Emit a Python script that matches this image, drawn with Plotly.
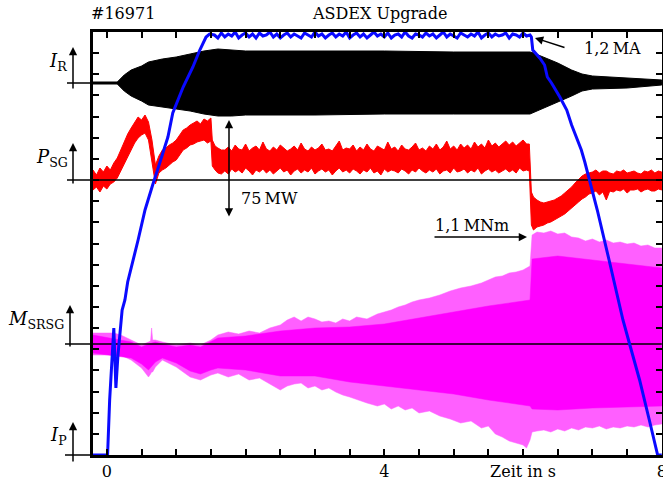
import numpy as np
import plotly.graph_objects as go

# ---------------- data (time in s, signal values in display units relative to each zero line)
IR_ZERO, PSG_ZERO, MSRSG_ZERO, IP_ZERO = 372, 275, 111, 0

# I_R envelope: (t, upper, lower)
IR_ENV = [(-0.20, 1, -1), (0.15, 1, -1), (0.25, 8, -8), (0.35, 13, -13), (0.50, 17, -18),
          (0.60, 21, -22), (0.80, 24, -24), (1.00, 26, -26), (1.20, 29, -28), (1.40, 32, -31),
          (1.60, 34, -33), (1.80, 33, -33), (2.00, 32, -32), (3.00, 32, -32), (4.00, 32, -31),
          (5.00, 31, -31), (6.10, 31, -31), (6.15, 30, -30), (6.30, 26, -25), (6.50, 20, -19),
          (6.70, 13, -13), (6.85, 9, -8), (7.00, 7, -6), (7.50, 5, -5), (8.00, 3, -2)]

# P_SG noisy band: (t, top, bottom) - start-up phase
PSG_START = [(-0.20, 10, -10), (-0.15, 5, -7), (-0.10, 12, -12), (-0.05, 8, -6), (0.00, 14, -9),
             (0.05, 10, -4), (0.10, 17, -2), (0.15, 22, 2), (0.20, 30, 8), (0.25, 38, 15),
             (0.30, 46, 23), (0.35, 52, 30), (0.40, 58, 37), (0.45, 63, 42), (0.50, 60, 45),
             (0.55, 65, 47), (0.60, 58, 40), (0.65, 40, 20), (0.70, 15, -4), (0.75, 24, 7),
             (0.80, 30, 10), (0.85, 32, 12), (0.90, 35, 15), (0.95, 37, 18), (1.00, 40, 20),
             (1.05, 45, 25), (1.10, 50, 30), (1.15, 52, 32), (1.20, 55, 35), (1.25, 57, 36),
             (1.30, 59, 38), (1.35, 56, 39), (1.40, 61, 40), (1.45, 59, 37), (1.50, 62, 39),
             (1.52, 40, 14), (1.56, 34, 10), (1.60, 32, 7), (1.65, 30, 6)]
# flat-top phase, sampled every 0.05 s from 1.70 s
PSG_FLAT_T0, PSG_FLAT_DT = 1.70, 0.05
PSG_FLAT_TOP = [30, 33, 29, 35, 31, 30, 36, 29, 32, 34,
                30, 38, 31, 29, 33, 30, 35, 32, 29, 31,
                34, 30, 37, 31, 29, 33, 30, 32, 36, 30,
                31, 29, 34, 39, 30, 32, 31, 35, 29, 33,
                30, 36, 31, 29, 34, 32, 30, 38, 31, 33,
                29, 35, 31, 30, 33, 37, 30, 32, 29, 34,
                31, 36, 30, 33, 39, 31, 34, 30, 36, 32,
                35, 31, 38, 33, 36, 32, 40, 34, 37, 33,
                36, 39, 35, 38, 34, 37, 40, 36]
PSG_FLAT_BOT = [9, 6, 11, 8, 10, 7, 12, 9, 5, 10,
                8, 11, 7, 10, 6, 9, 12, 8, 10, 5,
                9, 11, 7, 10, 8, 12, 6, 9, 11, 8,
                10, 5, 9, 12, 8, 10, 7, 11, 9, 6,
                10, 8, 12, 7, 9, 5, 11, 8, 10, 9,
                7, 11, 9, 6, 10, 8, 12, 9, 7, 10,
                8, 11, 6, 9, 10, 7, 12, 8, 9, 11,
                7, 10, 8, 12, 6, 9, 11, 8, 10, 7,
                9, 11, 8, 10, 7, 12, 9, 10]
PSG_END = [(6.09, 36, 9),
           (6.12, -12, -45), (6.15, -17, -50), (6.20, -20, -47), (6.25, -22, -46),
           (6.30, -23, -45), (6.35, -22, -43), (6.40, -21, -42), (6.45, -20, -40),
           (6.50, -18, -38), (6.55, -16, -36), (6.60, -13, -34), (6.65, -10, -31),
           (6.70, -7, -28), (6.75, -3, -25), (6.80, 0, -22), (6.85, 4, -19), (6.90, 6, -17),
           (6.95, 7, -14), (7.00, 8, -13), (7.05, 10, -11), (7.10, 7, -15), (7.15, 9, -12),
           (7.20, 9, -20), (7.25, 7, -11), (7.30, 6, -12), (7.35, 9, -10), (7.40, 8, -11),
           (7.45, 10, -9), (7.50, 7, -13), (7.55, 8, -10), (7.60, 9, -10), (7.65, 7, -9),
           (7.70, 6, -12), (7.75, 9, -10), (7.80, 8, -9), (7.85, 10, -11), (7.90, 7, -11),
           (7.95, 9, -9), (8.00, 8, -10)]

# M_SRSG oscillation: outer tips and dense core (t, top, bottom)
MS_OUTER = [(-0.20, 11, -11), (0.10, 11, -11), (0.20, 9, -11), (0.35, 4, -16), (0.50, -1, -24),
            (0.60, 2, -33), (0.63, 3, -30), (0.645, 16, -28), (0.66, 4, -28), (0.70, 4, -23),
            (0.80, 2, -16), (1.00, -1, -23), (1.20, 1, -33), (1.35, -1, -36), (1.50, 4, -31),
            (1.60, 9, -29), (1.75, 12, -33), (1.90, 10, -30), (2.05, 13, -36), (2.20, 11, -34),
            (2.35, 16, -40), (2.50, 19, -46), (2.60, 24, -42), (2.70, 27, -40), (2.80, 23, -39),
            (2.90, 27, -44), (3.00, 25, -42), (3.10, 22, -46), (3.20, 23, -44), (3.30, 21, -48),
            (3.40, 25, -51), (3.50, 23, -53), (3.60, 27, -55), (3.75, 25, -59), (3.90, 30, -62),
            (4.00, 32, -60), (4.10, 34, -65), (4.20, 37, -62), (4.30, 39, -66), (4.40, 42, -64),
            (4.50, 44, -69), (4.65, 46, -67), (4.80, 49, -72), (4.95, 53, -75), (5.10, 56, -79),
            (5.25, 58, -77), (5.40, 61, -84), (5.50, 64, -82), (5.60, 67, -90), (5.70, 68, -93),
            (5.80, 71, -97), (5.90, 72, -99), (6.00, 74, -101), (6.05, 76, -104), (6.10, 78, -96),
            (6.13, 109, -88), (6.20, 112, -87), (6.30, 111, -86), (6.40, 113, -88),
            (6.50, 110, -85), (6.60, 111, -87), (6.70, 107, -84), (6.80, 106, -86),
            (6.90, 103, -83), (7.00, 105, -84), (7.10, 102, -82), (7.20, 104, -85),
            (7.30, 101, -83), (7.40, 102, -84), (7.50, 100, -82), (7.60, 101, -83),
            (7.70, 98, -81), (7.80, 99, -83), (7.90, 96, -81), (8.00, 96, -80)]
MS_CORE = [(-0.20, 9, -9), (0.35, 2, -14), (0.50, -3, -20), (0.60, 0, -26), (0.70, 2, -18),
           (0.80, 0, -14), (1.00, -3, -19), (1.20, -1, -27), (1.35, -3, -30), (1.50, 2, -26),
           (1.60, 6, -24), (2.00, 8, -26), (2.50, 13, -32), (3.00, 16, -32), (3.50, 17, -38),
           (4.00, 20, -42), (4.50, 26, -46), (5.00, 32, -50), (5.50, 38, -56), (6.10, 44, -62),
           (6.13, 85, -65), (6.50, 88, -66), (7.00, 84, -64), (7.50, 80, -63), (8.00, 76, -62)]

# Plasma current I_P: ramp-up (t, value), flat-top samples, ramp-down (t, value)
IP_RISE = [(-0.20, 0), (0.00, 0), (0.01, 0), (0.04, 55), (0.07, 90), (0.10, 127), (0.13, 67),
           (0.16, 100), (0.22, 145), (0.26, 155), (0.30, 173), (0.37, 192), (0.45, 215),
           (0.55, 245), (0.59, 255), (0.66, 270), (0.73, 285), (0.81, 303), (0.88, 318),
           (0.95, 342), (1.10, 368), (1.24, 388), (1.34, 405), (1.43, 418), (1.48, 421)]
IP_FLAT_T0, IP_FLAT_DT = 1.55, 0.05
IP_FLAT = [420, 417, 422, 418, 421, 419, 423, 417, 420, 422,
           418, 421, 417, 422, 419, 420, 423, 418, 421, 417,
           420, 422, 418, 421, 419, 417, 422, 420, 418, 423,
           419, 421, 417, 420, 422, 418, 421, 419, 423, 417,
           420, 422, 418, 421, 417, 420, 423, 419, 421, 418,
           422, 417, 420, 421, 418, 423, 419, 417, 421, 420,
           418, 422, 419, 421, 417, 420, 423, 418, 421, 419,
           417, 422, 420, 418, 421, 419, 423, 417, 420, 422,
           418, 421, 419, 420, 422, 417, 421, 420, 418, 422,
           419]
IP_FALL = [(6.10, 420), (6.12, 418), (6.14, 405), (6.24, 397), (6.31, 390), (6.35, 378),
           (6.41, 372), (6.53, 358), (6.63, 345), (6.70, 330), (6.77, 318), (6.84, 305),
           (6.89, 293), (6.96, 275), (7.07, 245), (7.24, 195), (7.44, 135), (7.54, 110),
           (7.68, 75), (7.82, 35), (7.94, 0), (8.0, 0)]

X_TICKS = [0, 0.5, 1, 1.5, 2, 2.5, 3, 3.5, 4, 4.5, 5, 5.5, 6, 6.5, 7, 7.5, 8]
X_TICK_TEXT = ['0', '', '', '', '', '', '', '', '4', '', '', '', 'Zeit in s', '', '', '', '8']

# ---------------- geometry helpers for decorations (pixel -> paper)
L, T, W, H = 93, 32, 569, 423
def px(x):
    return (x - L) / W
def py(y):
    return (T + H - y) / H

FONT = "DejaVu Serif"

def band_trace(t, up, lo, zero, color, lw=0.5):
    t, up, lo = (np.asarray(v, dtype=float) for v in (t, up, lo))
    xs = np.concatenate([t, t[::-1]])
    ys = zero + np.concatenate([up, lo[::-1]])
    return go.Scatter(x=xs, y=ys, mode='lines', fill='toself', fillcolor=color,
                      line=dict(color=color, width=lw), hoverinfo='skip')

def split(env):
    a = np.array(env, dtype=float)
    return a[:, 0], a[:, 1], a[:, 2]

# assemble P_SG
flat_t = PSG_FLAT_T0 + PSG_FLAT_DT * np.arange(len(PSG_FLAT_TOP))
s_t, s_u, s_l = split(PSG_START)
e_t, e_u, e_l = split(PSG_END)
psg_t = np.concatenate([s_t, flat_t, e_t])
psg_u = np.concatenate([s_u, PSG_FLAT_TOP, e_u])
psg_l = np.concatenate([s_l, PSG_FLAT_BOT, e_l])

# assemble I_P
ip_flat_t = IP_FLAT_T0 + IP_FLAT_DT * np.arange(len(IP_FLAT))
r = np.array(IP_RISE, dtype=float)
f = np.array(IP_FALL, dtype=float)
ip_t = np.concatenate([r[:, 0], ip_flat_t, f[:, 0]])
ip_v = np.concatenate([r[:, 1], IP_FLAT, f[:, 1]])

fig = go.Figure()
fig.add_trace(band_trace(*split(IR_ENV), IR_ZERO, 'black', lw=1))
fig.add_trace(band_trace(psg_t, psg_u, psg_l, PSG_ZERO, 'rgb(255,0,0)', lw=1))
fig.add_trace(band_trace(*split(MS_OUTER), MSRSG_ZERO, 'rgb(255,95,255)'))
fig.add_trace(band_trace(*split(MS_CORE), MSRSG_ZERO, 'rgb(255,0,255)'))

for z in (IR_ZERO, PSG_ZERO, MSRSG_ZERO):
    fig.add_trace(go.Scatter(x=[-0.2, 8.0], y=[z, z], mode='lines',
                             line=dict(color='black', width=1.5), hoverinfo='skip'))

fig.add_trace(go.Scatter(x=ip_t, y=IP_ZERO + ip_v, mode='lines',
                         line=dict(color='rgb(10,10,255)', width=3), hoverinfo='skip'))

# zero-line stubs outside the frame
shapes = []
for yz, x0 in ((83, 67), (180, 67), (344, 65), (455, 65)):
    shapes.append(dict(type='line', xref='paper', yref='paper', x0=px(x0), x1=0,
                       y0=py(yz), y1=py(yz), line=dict(color='black', width=1.5)))

ann = []
def text(x, y, s, size=17):
    ann.append(dict(x=px(x), y=py(y), xref='paper', yref='paper', text=s, showarrow=False,
                    xanchor='center', yanchor='middle',
                    font=dict(family=FONT, size=size, color='black')))
def arrow(xh, yh, xt, yt, both=False):
    ann.append(dict(x=px(xh), y=py(yh), xref='paper', yref='paper', ax=xt - xh, ay=yt - yh,
                    axref='pixel', ayref='pixel', text='', showarrow=True, arrowhead=2,
                    arrowsize=1.1, arrowwidth=1.5, arrowcolor='black',
                    arrowside='end+start' if both else 'end', standoff=0, startstandoff=0))

text(123, 14, '#16971', 16)
text(379, 14, 'ASDEX Upgrade', 16)
text(58, 62, '<i>I</i><sub>R</sub>', 18)
text(52, 158, '<i>P</i><sub>SG</sub>', 18)
text(36, 320, '<i>M</i><sub>SRSG</sub>', 18)
text(58, 436, '<i>I</i><sub>P</sub>', 18)
arrow(73, 47, 73, 90)
arrow(73, 143, 73, 185)
arrow(70, 305, 70, 348)
arrow(73, 422, 73, 463)
text(612, 48, '1,2\u2009MA', 16)
arrow(535, 38, 566, 48)
text(269, 198, '75\u2009MW', 16)
arrow(229, 120, 229, 218, both=True)
text(472, 225, '1,1\u2009MNm', 16)
arrow(527, 237, 433, 237)

fig.update_layout(
    width=663, height=479,
    margin=dict(l=L, r=663 - L - W, t=T, b=479 - T - H, autoexpand=False),
    paper_bgcolor='white', plot_bgcolor='white', showlegend=False,
    shapes=shapes, annotations=ann,
    xaxis=dict(range=[-0.2, 8.003], tickmode='array', tickvals=X_TICKS, ticktext=X_TICK_TEXT,
               ticks='inside', ticklen=6, tickwidth=1.5, tickcolor='black',
               showline=True, linewidth=3, linecolor='black', mirror='ticks',
               showgrid=False, zeroline=False, ticklabeloverflow='allow', automargin=False,
               ticklabelstandoff=0,
               tickfont=dict(family=FONT, size=16, color='black')),
    yaxis=dict(range=[0, H], tick0=0, dtick=H / 20, ticks='inside', ticklen=6, tickwidth=1.5,
               tickcolor='black', showline=True, linewidth=3, linecolor='black', mirror='ticks',
               showgrid=False, zeroline=False, showticklabels=False, automargin=False),
)

fig.write_html("out.html")
